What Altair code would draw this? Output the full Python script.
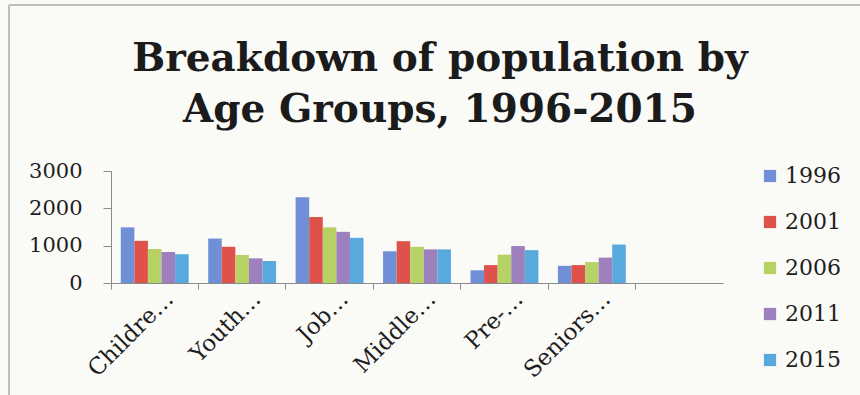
import altair as alt
import pandas as pd

# Age-group categories as shown on the axis (an empty slot closes the axis)
groups = ["Childre…", "Youth…", "Job…", "Middle…", "Pre-…", "Seniors…"]
axis_slots = groups + [" "]
years = ["1996", "2001", "2006", "2011", "2015"]

# Population per age group, one list per census year
pop_1996 = [1490, 1190, 2300, 850, 340, 460]
pop_2001 = [1130, 970, 1770, 1120, 480, 480]
pop_2006 = [910, 750, 1490, 970, 760, 560]
pop_2011 = [830, 660, 1370, 900, 990, 680]
pop_2015 = [770, 590, 1210, 900, 880, 1030]

year_colors = ["#6f8fd6", "#df524c", "#b6d265", "#9f80bf", "#57a9de"]

series = [pop_1996, pop_2001, pop_2006, pop_2011, pop_2015]
rows = []
for year, values in zip(years, series):
    for group, value in zip(groups, values):
        rows.append({"group": group, "year": year, "value": value})
df = pd.DataFrame(rows)

SERIF = "DejaVu Serif"
AXIS_GREY = "#8a8a8a"
TEXT = "#1e1e1e"

bars = alt.Chart(df).mark_bar().encode(
    x=alt.X(
        "group:N",
        sort=axis_slots,
        scale=alt.Scale(domain=axis_slots, paddingInner=0, paddingOuter=0),
        axis=alt.Axis(
            title=None,
            bandPosition=0,
            labelAngle=-45,
            labelAlign="right",
            labelBaseline="middle",
            labelOffset=15,
            labelPadding=6,
            labelFont=SERIF,
            labelFontSize=23,
            labelColor=TEXT,
            tickSize=6,
            tickColor=AXIS_GREY,
            domainColor=AXIS_GREY,
            grid=False,
        ),
    ),
    xOffset=alt.XOffset(
        "year:N",
        scale=alt.Scale(domain=years, paddingInner=0, paddingOuter=0.72),
    ),
    y=alt.Y(
        "value:Q",
        scale=alt.Scale(domain=[0, 3000], nice=False),
        axis=alt.Axis(
            title=None,
            values=[0, 1000, 2000, 3000],
            format="d",
            labelFont=SERIF,
            labelFontSize=21,
            labelColor=TEXT,
            labelPadding=21,
            tickSize=8,
            tickColor=AXIS_GREY,
            domainColor=AXIS_GREY,
            grid=False,
        ),
    ),
    color=alt.Color(
        "year:N",
        scale=alt.Scale(domain=years, range=year_colors),
        legend=alt.Legend(
            title=None,
            orient="none",
            legendX=648,
            legendY=-6,
            symbolType="square",
            symbolSize=150,
            symbolStrokeWidth=0,
            labelFont=SERIF,
            labelFontSize=22,
            labelColor=TEXT,
            labelOffset=4,
            rowPadding=24,
        ),
    ),
)

# Frame lines along the top and left edges of the chart
frame_src = pd.DataFrame({"k": [0]})
frame_top = alt.Chart(frame_src).mark_rule(color="#bdbdbd", strokeWidth=2).encode(
    x=alt.value(-102), x2=alt.value(749), y=alt.value(-166)
)
frame_left = alt.Chart(frame_src).mark_rule(color="#bdbdbd", strokeWidth=2).encode(
    x=alt.value(-102), y=alt.value(-166), y2=alt.value(224)
)

chart = alt.layer(frame_top, frame_left, bars).properties(
    width=612,
    height=112,
    title=alt.TitleParams(
        text=["Breakdown of population by", "Age Groups, 1996-2015"],
        font=SERIF,
        fontSize=39,
        fontWeight="bold",
        color="#1b1b1b",
        anchor="middle",
        frame="group",
        baseline="alphabetic",
        dx=23,
        lineHeight=51,
        offset=0,
        dy=157,
    ),
    autosize=alt.AutoSizeParams(type="none"),
    padding={"left": 111, "top": 171, "right": 137, "bottom": 112},
    background="#fafaf7",
).configure_view(stroke=None)

chart.save("out.html", embed_options={"renderer": "svg", "actions": False})
